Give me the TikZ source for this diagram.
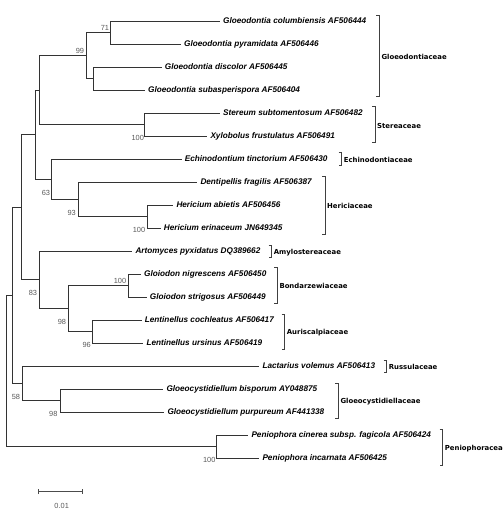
\documentclass[tikz,border=0pt]{standalone}
\usepackage{fontspec}
\setmainfont{Liberation Sans}
\newfontfamily\famfont{DejaVu Sans}
\usetikzlibrary{arrows.meta, calc}

\begin{document}
\begin{tikzpicture}[
    x=1pt, y=-1pt,
    branch/.style={draw=black!80, line width=0.8pt},
    leaf/.style={anchor=west, inner xsep=3pt, inner ysep=0pt, font=\fontsize{8.2}{9}\selectfont\bfseries\itshape},
    boot/.style={text=black!65, inner sep=0pt, font=\fontsize{7.4}{8}\selectfont},
    bracket/.style={draw=black!75, line width=0.7pt},
    family/.style={anchor=west, inner xsep=2pt, inner ysep=0pt, font=\famfont\bfseries\fontsize{6.9}{8}\selectfont},
    scalebar/.style={draw=black!70, line width=0.8pt, {Bar[width=5pt]}-{Bar[width=5pt]}}
  ]
    \useasboundingbox (0,0) rectangle (503,512);

    % Taxa, 23 px apart
    \foreach \i/\xe/\taxon in {
        1/220/{Gloeodontia columbiensis AF506444},
        2/181/{Gloeodontia pyramidata AF506446},
        3/161.7/{Gloeodontia discolor AF506445},
        4/145/{Gloeodontia subasperispora AF506404},
        5/220/{Stereum subtomentosum AF506482},
        6/207.3/{Xylobolus frustulatus AF506491},
        7/181.7/{Echinodontium tinctorium AF506430},
        8/197.3/{Dentipellis fragilis AF506387},
        9/173.3/{Hericium abietis AF506456},
        10/160.7/{Hericium erinaceum JN649345},
        11/132.3/{Artomyces pyxidatus DQ389662},
        12/141/{Gloiodon nigrescens AF506450},
        13/146.7/{Gloiodon strigosus AF506449},
        14/141.7/{Lentinellus cochleatus AF506417},
        15/143.3/{Lentinellus ursinus AF506419},
        16/259.3/{Lactarius volemus AF506413},
        17/163.3/{Gloeocystidiellum bisporum AY048875},
        18/164.3/{Gloeocystidiellum purpureum AF441338},
        19/248.3/{Peniophora cinerea subsp. fagicola AF506424},
        20/259.3/{Peniophora incarnata AF506425}} {
      \node[leaf] (l\i) at (\xe, {21+23*(\i-1)}) {\taxon};
    }

    % Internal nodes (x = depth, y = middle of the children)
    \coordinate (n71)  at (110.7, 32.5);
    \coordinate (nDis) at (93.7, 78.5);
    \coordinate (n99)  at (86.3, 55.5);
    \coordinate (nSte) at (144.3, 124.5);
    \coordinate (nGS)  at (39.3, 90);
    \coordinate (nHer) at (147.3, 216.5);
    \coordinate (n93)  at (78, 199.25);
    \coordinate (n63)  at (51.7, 179.1);
    \coordinate (nA)   at (35.7, 134.6);
    \coordinate (nGlo) at (128.3, 285.5);
    \coordinate (n96)  at (92.7, 331.5);
    \coordinate (n98)  at (68.3, 308.5);
    \coordinate (n83)  at (39.3, 279.75);
    \coordinate (nB)   at (21, 207.2);
    \coordinate (nGc)  at (60, 400.5);
    \coordinate (n58)  at (22.3, 383.25);
    \coordinate (nC)   at (12.3, 295.2);
    \coordinate (nPen) at (216.7, 446.5);
    \coordinate (root) at (6.7, 370.9);

    % Branches
    \foreach \p/\c in {n71/l1.west, n71/l2.west, nDis/l3.west, nDis/l4.west,
        n99/n71, n99/nDis, nSte/l5.west, nSte/l6.west, nGS/n99, nGS/nSte,
        nHer/l9.west, nHer/l10.west, n93/l8.west, n93/nHer, n63/l7.west, n63/n93,
        nA/nGS, nA/n63, nGlo/l12.west, nGlo/l13.west, n96/l14.west, n96/l15.west,
        n98/nGlo, n98/n96, n83/l11.west, n83/n98, nB/nA, nB/n83,
        nGc/l17.west, nGc/l18.west, n58/l16.west, n58/nGc, nC/nB, nC/n58,
        nPen/l19.west, nPen/l20.west, root/nC, root/nPen} {
      \draw[branch] (\p) |- (\c);
    }

    % Bootstrap values
    \node[boot] (b71)  at (105, 28.3) {71};
    \node[boot] (b99)  at (80, 51) {99};
    \node[boot] (bSte) at (137.7, 138.3) {100};
    \node[boot] (b63)  at (46, 192.7) {63};
    \node[boot] (b93)  at (71.7, 212.7) {93};
    \node[boot] (bHer) at (139, 230) {100};
    \node[boot] (b83)  at (33, 293) {83};
    \node[boot] (bGlo) at (120, 281) {100};
    \node[boot] (b98)  at (62, 322.3) {98};
    \node[boot] (b96)  at (86.7, 345.3) {96};
    \node[boot] (b58)  at (16, 396.7) {58};
    \node[boot] (bGc)  at (53.3, 414) {98};
    \node[boot] (bPen) at (209.3, 460) {100};

    % Family brackets
    \foreach \bx/\bt/\bb/\fam in {
        379.3/15/96.7/Gloeodontiaceae,
        375/106.7/142.7/Stereaceae,
        341.7/152.7/165.3/Echinodontiaceae,
        325/176/234.7/Hericiaceae,
        271.7/245/257.3/Amylostereaceae,
        277.3/267.7/303/Bondarzewiaceae,
        284.7/314.3/349/Auriscalpiaceae,
        386.7/360/372.7/Russulaceae,
        338.3/383.3/418.3/Gloeocystidiellaceae,
        442.7/429.3/465/Peniophoraceae} {
      \draw[bracket] (\bx-3,\bt) -- (\bx,\bt) -- (\bx,\bb) -- (\bx-3,\bb);
      \node[family] (f\fam) at (\bx, {(\bt+\bb)/2+1}) {\fam};
    }

    % Scale bar
    \coordinate (sbL) at (37.7, 491.7);
    \coordinate (sbR) at (82.7, 491.7);
    \draw[scalebar] (sbL) -- (sbR);
    \node[boot] (sbT) at (61.7, 506) {0.01};

\end{tikzpicture}
\end{document}
